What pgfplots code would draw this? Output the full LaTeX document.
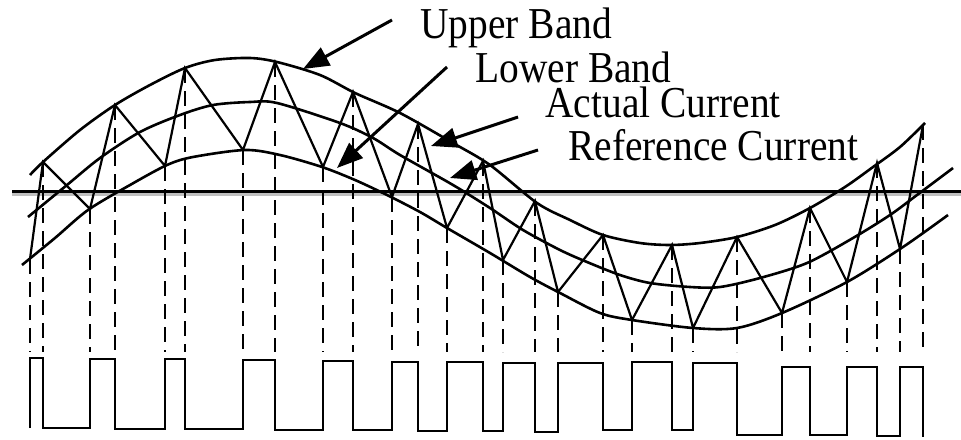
\documentclass[border=0pt]{standalone}
\usepackage{pgfplots}
\pgfplotsset{compat=1.18}
\usepackage{graphicx}
\usepackage{fontspec}
\setmainfont{Liberation Serif}
\usetikzlibrary{arrows.meta}
\newcommand{\lab}[1]{\scalebox{1}[1.12]{\fontsize{19.7}{24}\selectfont #1}}
\begin{document}
\begin{tikzpicture}
\begin{axis}[
  width=480.5pt, height=219.5pt, scale only axis,
  xmin=0, xmax=961, ymin=0, ymax=439, y dir=reverse,
  axis lines=none, ticks=none, clip=false, enlargelimits=false,
]
% axis (zero) line
\addplot[gray!50, line width=1.3pt] coordinates {(12,194.5) (961,194.5)};
\addplot[black, line width=1.3pt] coordinates {(12,191.5) (961,191.5)};
% upper band
\addplot[black, line width=1.3pt, smooth] coordinates {
(30,175) (43,162) (80,130) (115,105) (150,85) (185,68) (215,60) (250,58) (277,62)
(320,75) (355,93) (400,113) (453,143) (490,165) (537,203) (570,220) (603,235)
(640,243) (670,245) (700,243) (737,237) (775,225) (810,208) (845,187) (873,167)
(900,147) (925,123)};
% reference
\addplot[black, line width=1.3pt, smooth] coordinates {
(28,217) (67,185) (100,158) (140,132) (180,115) (213,105) (250,102) (277,103)
(340,123) (373,138) (400,155) (453,185) (490,208) (523,230) (560,250) (587,262)
(620,275) (650,283) (690,287) (720,287) (760,278) (807,263) (853,238) (890,215)
(917,195) (953,168)};
% lower band
\addplot[black, line width=1.3pt, smooth] coordinates {
(22,265) (55,238) (88,210) (130,185) (167,165) (193,157) (245,150) (280,155)
(322,167) (355,180) (387,195) (420,212) (447,228) (490,253) (530,277) (560,293)
(600,313) (632,320) (693,328) (737,328) (782,313) (847,282) (903,247) (948,215)};
% actual current (zigzag)
\addplot[black, line width=1.1pt] coordinates {
(30,259) (43,162) (90,209) (115,105) (165,166) (185,68) (243,150) (275,62)
(323,167) (353,92) (392,197) (418,124) (447,228) (483,161) (503,260) (535,201)
(558,292) (603,235) (632,320) (672,245) (693,328) (737,237) (782,313) (810,208)
(847,282) (877,163) (900,249) (923,125)};
% dashed projections
\foreach \xx/\yy in {30/259,43/162,90/209,115/105,165/166,185/68,243/150,275/62,
323/167,353/92,392/197,418/124,447/228,483/161,503/260,535/201,558/292,603/235,
632/320,672/245,693/328,737/237,782/313,810/208,847/282,877/163,900/249,923/125}{
\edef\tmp{\noexpand\addplot[black, line width=1.2pt, dash pattern=on 7.5pt off 4pt] coordinates {(\xx,\yy) (\xx,352)};}
\tmp
}
% switching pulses
\addplot[black, line width=1.1pt] coordinates {
(30,428) (30,358) (43,358) (43,428) (90,428) (90,359) (115,359) (115,429)
(165,429) (165,359) (185,359) (185,429) (243,429) (243,360) (275,360) (275,430)
(323,430) (323,361) (353,361) (353,430) (392,430) (392,362) (418,362) (418,431)
(447,431) (447,362) (483,362) (483,431) (503,431) (503,363) (535,363) (535,432)
(558,432) (558,363) (603,363) (603,430) (632,430) (632,362) (672,362) (672,430)
(693,430) (693,363) (737,363) (737,435) (782,435) (782,367) (810,367) (810,435)
(847,435) (847,367) (877,367) (877,436) (900,436) (900,367) (923,367) (923,437)};
% annotation arrows
\addplot[black, line width=1.5pt, -{Triangle[length=13pt,width=10pt]}] coordinates {(392,20) (303,69)};
\addplot[black, line width=1.5pt, -{Triangle[length=13pt,width=10pt]}] coordinates {(447,67) (337,168)};
\addplot[black, line width=1.5pt, -{Triangle[length=13pt,width=10pt]}] coordinates {(518,117) (431,146)};
\addplot[black, line width=1.5pt, -{Triangle[length=13pt,width=10pt]}] coordinates {(538,150) (450,178)};
% labels
\node[anchor=base west, inner sep=0pt] at (axis cs:420,39) {\lab{Upper Band}};
\node[anchor=base west, inner sep=0pt] at (axis cs:475,82) {\lab{Lower Band}};
\node[anchor=base west, inner sep=0pt] at (axis cs:545,117) {\lab{Actual Current}};
\node[anchor=base west, inner sep=0pt] at (axis cs:568,160) {\lab{Reference Current}};
\end{axis}
\pgfresetboundingbox
\path (current axis.south west) rectangle (current axis.north east);
\end{tikzpicture}
\end{document}
